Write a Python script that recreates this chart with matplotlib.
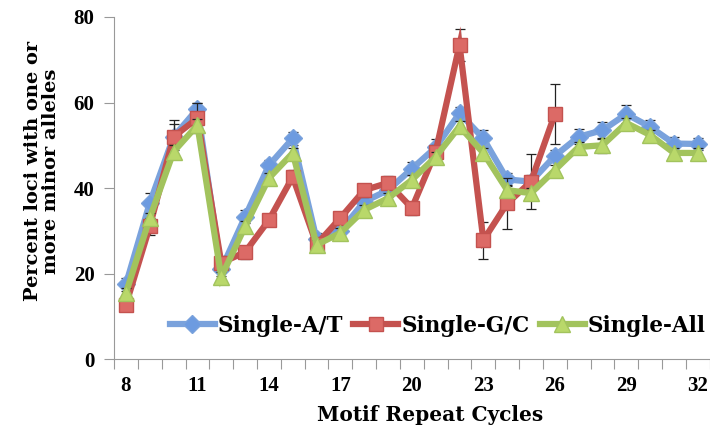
import matplotlib.pyplot as plt
import numpy as np

cycles = list(range(8, 33))

# Single-A/T
at_vals = [17.5, 36.5, 52, 58.5, 21, 33.3, 45.3, 51.6, 28, 30, 36.8, 39.5, 44.5,
           49.5, 57.5, 51.6, 42, 41.5, 47.5, 52, 53.5, 57.3, 54.3, 50.4, 50.3]
at_err = [1.5, 2.3, 3, 1.5, 1.5, 1.5, 1.2, 1.6, 1.5, 1.5, 1.5, 1.5, 1.5,
          2, 1.5, 2, 1.5, 1.5, 1.5, 1.7, 2, 2, 1.5, 1.5, 1.5]

# Single-G/C (stops at 26)
gc_vals = [12.7, 31, 52, 56.3, 22.5, 25, 32.5, 42.6, 26.8, 33, 39.5, 41.2, 35.3,
           48.5, 73.5, 27.8, 36.4, 41.5, 57.3]
gc_err = [1.5, 2, 4, 3.5, 1.5, 1.5, 1.5, 1.5, 1.5, 1.5, 1.5, 1.5, 1.5,
          1.5, 3.7, 4.3, 6, 6.5, 7]

# Single-All
all_vals = [15.4, 33, 48.5, 54.7, 19.2, 31, 42.3, 48.2, 26.7, 29.5, 34.9, 37.6, 41.9,
            47.3, 54.4, 48.2, 39.5, 38.8, 44.2, 49.6, 50, 55.2, 52.4, 48.2, 48.2]
all_err = [1.2, 1.2, 1.5, 1.5, 1.2, 1.2, 1.2, 1.2, 1.2, 1.2, 1.2, 1.2, 1.2,
           1.2, 1.2, 1.2, 1.2, 1.2, 1.2, 1.2, 1.8, 1.2, 1.2, 1.2, 1.2]

txt_font = 'DejaVu Serif'       # wider letters for labels/legend
plt.rcParams['font.family'] = 'Liberation Serif'   # narrow digits for tick numbers
plt.rcParams['font.weight'] = 'bold'

fig = plt.figure(figsize=(7.1, 4.3), dpi=100)
ax = fig.add_axes([0.1606, 0.165, 0.839, 0.7955])

series = [
    ('Single-A/T', at_vals, at_err, '#7aa2dc', '#6d9be0', 'D', 9),
    ('Single-G/C', gc_vals, gc_err, '#c4524f', '#dc6a66', 's', 10.5),
    ('Single-All', all_vals, all_err, '#a2c35d', '#b9d86a', '^', 11.5),
]

for i, (name, vals, err, lc, mc, mk, ms) in enumerate(series):
    x = cycles[:len(vals)]
    ax.errorbar(x, vals, yerr=err, fmt='none', ecolor='#222222', elinewidth=0.9,
                capsize=3.5, capthick=0.9, zorder=2 + 2 * i)
    ax.plot(x, vals, color=lc, lw=4.5, marker=mk, markersize=ms,
            markerfacecolor=mc, markeredgecolor=lc, markeredgewidth=1,
            label=name, zorder=3 + 2 * i, solid_joinstyle='miter')

ax.set_xlim(7.5, 32.5)
ax.set_ylim(0, 80)
ax.set_yticks([0, 20, 40, 60, 80])
ax.set_xticks(np.arange(7.5, 33, 1))
ax.set_xticklabels([])
ax.set_xticks(cycles[::3], minor=True)
ax.set_xticklabels([str(c) for c in cycles[::3]], minor=True)
ax.tick_params(axis='x', which='minor', length=0, pad=12, labelsize=15)
ax.tick_params(axis='x', which='major', length=7, color='#999999', direction='out')
ax.tick_params(axis='y', length=7, color='#999999', pad=7, labelsize=15)

for s in ['top', 'right']:
    ax.spines[s].set_visible(False)
for s in ['left', 'bottom']:
    ax.spines[s].set_color('#999999')

ax.set_xlabel('Motif Repeat Cycles', fontsize=14.5, fontweight='bold',
              family=txt_font)
ax.xaxis.set_label_coords(0.53, -0.135)
ax.set_ylabel('Percent loci with one or\nmore minor alleles', fontsize=14,
              fontweight='bold', family=txt_font, linespacing=1.05)
ax.yaxis.set_label_coords(-0.09, 0.55)

ax.legend(loc='lower right', bbox_to_anchor=(1.008, 0.04), ncol=3, frameon=False,
          handlelength=2.1, handletextpad=0.15, columnspacing=0.45, borderaxespad=0,
          prop={'family': txt_font, 'weight': 'bold', 'size': 15.5})

fig.savefig('out.png', dpi=100)
